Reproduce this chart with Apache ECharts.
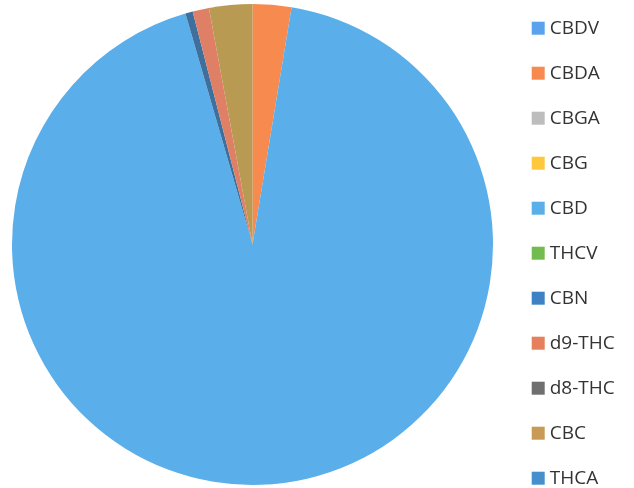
<!DOCTYPE html>
<html>
<head>
<meta charset="utf-8">
<script src="https://cdn.jsdelivr.net/npm/echarts@6/dist/echarts.min.js"></script>
<style>html,body{margin:0;padding:0;background:#fff;}#c{width:634px;height:488px;}</style>
</head>
<body>
<div id="c"></div>
<script>
const categories = ['CBDV','CBDA','CBGA','CBG','CBD','THCV','CBN','d9-THC','d8-THC','CBC','THCA'];
const values = [0, 2.6, 0, 0, 92.9, 0, 0.5, 1.1, 0, 2.9, 0];
const colors = ['#5aa3ec','#f78a4f','#bdbdbd','#fdc83c','#5aaeea','#72bb4e','#3f6f9c','#df7f66','#6f6f6f','#b89a52','#4590cc'];
const legendColors = ['#5aa3ec','#f78a4f','#bdbdbd','#fdc83c','#5aaeea','#72bb4e','#3f82c4','#e67f5c','#6f6f6f','#c99a55','#4590cc'];

const chart = echarts.init(document.getElementById('c'));
chart.setOption({
  animation: false,
  legend: {
    orient: 'vertical',
    left: 531.7,
    top: 18.7,
    height: 480,
    padding: 0,
    itemWidth: 13,
    itemHeight: 13,
    itemGap: 26,
    icon: 'rect',
    textStyle: { fontSize: 19, color: '#333', fontFamily: 'Open Sans' },
    data: categories.map((n, i) => ({ name: n, itemStyle: { color: legendColors[i] } }))
  },
  series: [{
    type: 'pie',
    center: [252.5, 244.5],
    radius: 240.5,
    startAngle: 90,
    clockwise: true,
    label: { show: false },
    labelLine: { show: false },
    itemStyle: { borderWidth: 0 },
    emphasis: { disabled: true },
    data: categories.map((n, i) => ({ name: n, value: values[i], itemStyle: { color: colors[i] } }))
  }]
});
</script>
</body>
</html>
